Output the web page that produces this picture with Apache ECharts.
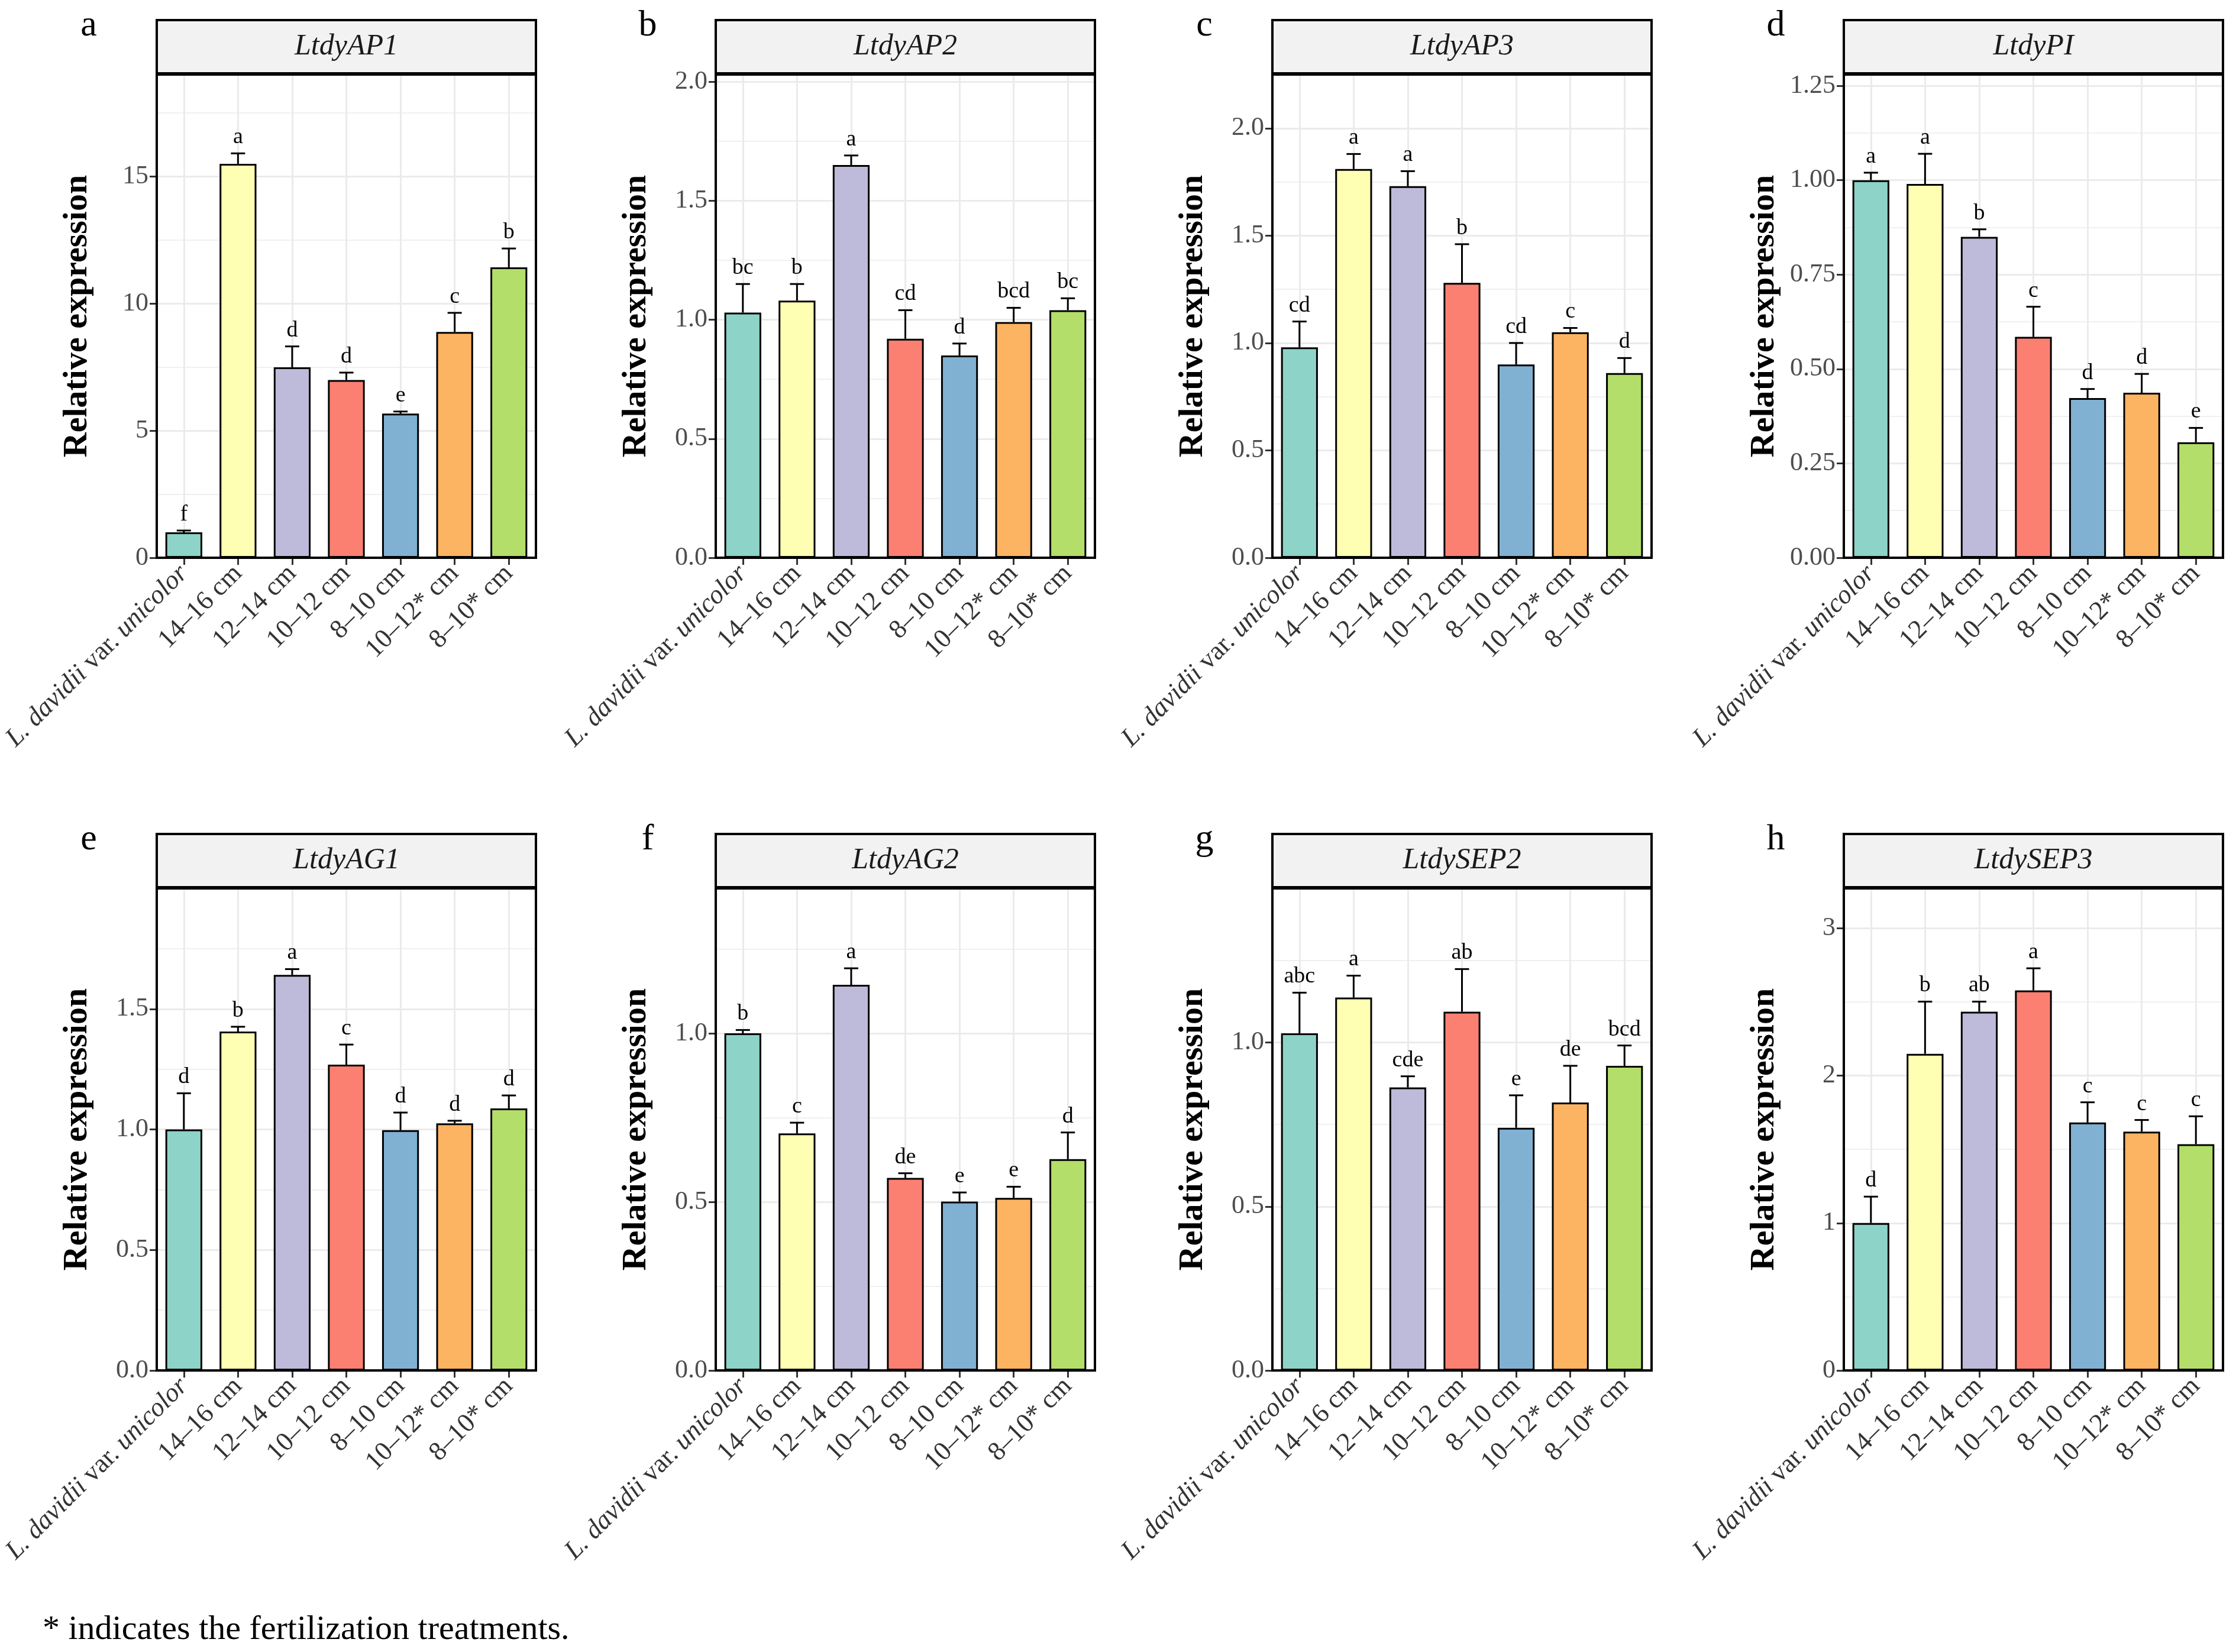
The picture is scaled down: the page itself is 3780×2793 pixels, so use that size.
<!DOCTYPE html>
<html>
<head>
<meta charset="utf-8">
<script src="https://cdn.jsdelivr.net/npm/echarts@6/dist/echarts.min.js"></script>
<style>
html, body { margin: 0; padding: 0; background: #fff; }
#chart { width: 3780px; height: 2793px; }
</style>
</head>
<body>
<div id="chart"></div>
<script>
var categories = ['L. davidii var. unicolor', '14–16 cm', '12–14 cm', '10–12 cm', '8–10 cm', '10–12* cm', '8–10* cm'];
var genes = ['LtdyAP1', 'LtdyAP2', 'LtdyAP3', 'LtdyPI', 'LtdyAG1', 'LtdyAG2', 'LtdySEP2', 'LtdySEP3'];
var panelTags = ['a', 'b', 'c', 'd', 'e', 'f', 'g', 'h'];

// mean relative expression, standard error, significance letters
var meanAP1 = [1.00, 15.49, 7.49, 6.99, 5.67, 8.88, 11.42];
var seAP1 = [0.07, 0.41, 0.82, 0.29, 0.08, 0.75, 0.74];
var sigAP1 = ['f', 'a', 'd', 'd', 'e', 'c', 'b'];

var meanAP2 = [1.03, 1.08, 1.65, 0.92, 0.85, 0.99, 1.04];
var seAP2 = [0.12, 0.07, 0.04, 0.12, 0.05, 0.06, 0.05];
var sigAP2 = ['bc', 'b', 'a', 'cd', 'd', 'bcd', 'bc'];

var meanAP3 = [0.98, 1.81, 1.73, 1.28, 0.90, 1.05, 0.86];
var seAP3 = [0.12, 0.07, 0.07, 0.18, 0.10, 0.02, 0.07];
var sigAP3 = ['cd', 'a', 'a', 'b', 'cd', 'c', 'd'];

var meanPI = [1.00, 0.99, 0.85, 0.585, 0.423, 0.437, 0.306];
var sePI = [0.02, 0.08, 0.02, 0.08, 0.024, 0.05, 0.038];
var sigPI = ['a', 'a', 'b', 'c', 'd', 'd', 'e'];

var meanAG1 = [1.00, 1.406, 1.641, 1.269, 0.997, 1.025, 1.087];
var seAG1 = [0.15, 0.02, 0.024, 0.083, 0.073, 0.011, 0.054];
var sigAG1 = ['d', 'b', 'a', 'c', 'd', 'd', 'd'];

var meanAG2 = [1.00, 0.703, 1.144, 0.571, 0.501, 0.512, 0.627];
var seAG2 = [0.01, 0.032, 0.049, 0.014, 0.027, 0.033, 0.079];
var sigAG2 = ['b', 'c', 'a', 'de', 'e', 'e', 'd'];

var meanSEP2 = [1.028, 1.137, 0.863, 1.094, 0.740, 0.817, 0.929];
var seSEP2 = [0.124, 0.067, 0.034, 0.13, 0.099, 0.112, 0.062];
var sigSEP2 = ['abc', 'a', 'cde', 'ab', 'e', 'de', 'bcd'];

var meanSEP3 = [1.00, 2.148, 2.433, 2.578, 1.682, 1.62, 1.535];
var seSEP3 = [0.179, 0.354, 0.069, 0.15, 0.137, 0.079, 0.189];
var sigSEP3 = ['d', 'b', 'ab', 'a', 'c', 'c', 'c'];

// y tick labels and upper limit of each panel
var ticksAP1 = ['0', '5', '10', '15'];
var ticksAP2 = ['0.0', '0.5', '1.0', '1.5', '2.0'];
var ticksAP3 = ['0.0', '0.5', '1.0', '1.5', '2.0'];
var ticksPI = ['0.00', '0.25', '0.50', '0.75', '1.00', '1.25'];
var ticksAG1 = ['0.0', '0.5', '1.0', '1.5'];
var ticksAG2 = ['0.0', '0.5', '1.0'];
var ticksSEP2 = ['0.0', '0.5', '1.0'];
var ticksSEP3 = ['0', '1', '2', '3'];
var yMax = [19.0, 2.03, 2.25, 1.28, 2.0, 1.43, 1.47, 3.27];

var means = [meanAP1, meanAP2, meanAP3, meanPI, meanAG1, meanAG2, meanSEP2, meanSEP3];
var ses = [seAP1, seAP2, seAP3, sePI, seAG1, seAG2, seSEP2, seSEP3];
var sigs = [sigAP1, sigAP2, sigAP3, sigPI, sigAG1, sigAG2, sigSEP2, sigSEP3];
var ticks = [ticksAP1, ticksAP2, ticksAP3, ticksPI, ticksAG1, ticksAG2, ticksSEP2, ticksSEP3];

var palette = ['#8DD3C7', '#FFFFB3', '#BEBADA', '#FB8072', '#80B1D3', '#FDB462', '#B3DE69'];
var FONT = '"Liberation Serif", "DejaVu Serif", serif';

// layout (px)
var colLeft = [265, 1210, 2151, 3117];
var panelW = 641;
var stripTop = [34, 1410];
var stripH = 90;
var plotBottom = [943, 2317];

var chart = echarts.init(document.getElementById('chart'));

var grids = [], xAxes = [], yAxes = [], series = [], graphics = [];

genes.forEach(function (gene, i) {
    var col = i % 4, row = Math.floor(i / 4);
    var left = colLeft[col];
    var top = stripTop[row] + stripH + 2;
    var height = plotBottom[row] - top;
    var tickVals = ticks[i].map(parseFloat);
    var step = tickVals[1] - tickVals[0];

    grids.push({ left: left, top: top, width: panelW, height: height, containLabel: false });

    xAxes.push({
        type: 'category',
        gridIndex: i,
        data: categories,
        axisLine: { show: false },
        axisTick: { show: true, alignWithLabel: true, length: 12, lineStyle: { color: '#333', width: 3 } },
        axisLabel: {
            rotate: 45,
            interval: 0,
            margin: 20,
            fontFamily: FONT,
            fontSize: 45,
            color: '#333',
            formatter: function (v, idx) {
                return idx === 0 ? '{i|L. davidii} var. {i|unicolor}' : v;
            },
            rich: { i: { fontStyle: 'italic', fontFamily: FONT, fontSize: 45, color: '#333' } }
        },
        splitLine: { show: true, alignWithLabel: true, lineStyle: { color: '#ebebeb', width: 3 } }
    });

    yAxes.push({
        type: 'value',
        gridIndex: i,
        min: 0,
        max: yMax[i],
        interval: step,
        name: 'Relative expression',
        nameLocation: 'middle',
        nameGap: 105,
        nameTextStyle: { fontFamily: FONT, fontSize: 58, fontWeight: 'bold', color: '#000' },
        axisLine: { show: false },
        axisTick: { show: true, length: 12, lineStyle: { color: '#333', width: 3 }, customValues: tickVals },
        axisLabel: {
            customValues: tickVals,
            margin: 14,
            fontFamily: FONT,
            fontSize: 44,
            color: '#4d4d4d',
            formatter: function (v) {
                for (var k = 0; k < tickVals.length; k++) {
                    if (Math.abs(tickVals[k] - v) < 1e-6) return ticks[i][k];
                }
                return '';
            }
        },
        splitLine: { show: true, lineStyle: { color: '#ebebeb', width: 3 } }
    });
    // minor grid lines
    yAxes.push({
        type: 'value',
        gridIndex: i,
        position: 'left',
        min: 0,
        max: yMax[i],
        interval: step / 2,
        axisLine: { show: false },
        axisTick: { show: false },
        axisLabel: { show: false },
        splitLine: { show: true, lineStyle: { color: '#ebebeb', width: 1.5 } }
    });

    series.push({
        type: 'bar',
        xAxisIndex: i,
        yAxisIndex: 2 * i,
        colorBy: 'data',
        barWidth: '68%',
        itemStyle: { borderColor: '#000', borderWidth: 3 },
        data: means[i]
    });

    var sig = sigs[i];
    series.push({
        type: 'custom',
        xAxisIndex: i,
        yAxisIndex: 2 * i,
        data: means[i].map(function (m, k) { return [k, m, m + ses[i][k]]; }),
        z: 5,
        renderItem: function (params, api) {
            var x = api.value(0);
            var p0 = api.coord([x, api.value(1)]);
            var p1 = api.coord([x, api.value(2)]);
            var cap = 12;
            return {
                type: 'group',
                children: [
                    { type: 'line', shape: { x1: p0[0], y1: p0[1], x2: p1[0], y2: p1[1] }, style: { stroke: '#000', lineWidth: 3 } },
                    { type: 'line', shape: { x1: p1[0] - cap, y1: p1[1], x2: p1[0] + cap, y2: p1[1] }, style: { stroke: '#000', lineWidth: 3 } },
                    {
                        type: 'text', x: p1[0], y: p1[1] - 8,
                        style: {
                            text: sig[params.dataIndex], font: '38px ' + FONT, fill: '#000',
                            align: 'center', verticalAlign: 'bottom', textAlign: 'center', textVerticalAlign: 'bottom'
                        }
                    }
                ]
            };
        }
    });

    // strip
    graphics.push({
        type: 'rect', z: 100,
        shape: { x: left, y: stripTop[row], width: panelW, height: stripH },
        style: { fill: '#f2f2f2', stroke: '#000', lineWidth: 4 }
    });
    graphics.push({
        type: 'text', z: 101,
        x: left + panelW / 2, y: stripTop[row] + stripH / 2,
        style: {
            text: gene, font: 'italic 50px ' + FONT, fill: '#1a1a1a',
            align: 'center', verticalAlign: 'middle', textAlign: 'center', textVerticalAlign: 'middle'
        }
    });
    // panel border
    graphics.push({
        type: 'rect', z: 100,
        shape: { x: left, y: top, width: panelW, height: height },
        style: { fill: 'none', stroke: '#000', lineWidth: 4 }
    });
    // panel tag
    graphics.push({
        type: 'text', z: 101,
        x: left - 115, y: stripTop[row] + 10,
        style: {
            text: panelTags[i], font: '62px ' + FONT, fill: '#000',
            align: 'center', verticalAlign: 'middle', textAlign: 'center', textVerticalAlign: 'middle'
        }
    });
});

graphics.push({
    type: 'text', z: 101,
    x: 72, y: 2756,
    style: {
        text: '* indicates the fertilization treatments.', font: '58px ' + FONT, fill: '#000',
        align: 'left', verticalAlign: 'middle', textAlign: 'left', textVerticalAlign: 'middle'
    }
});

chart.setOption({
    backgroundColor: '#fff',
    animation: false,
    color: palette,
    textStyle: { fontFamily: FONT },
    grid: grids,
    xAxis: xAxes,
    yAxis: yAxes,
    series: series,
    graphic: graphics
});
</script>
</body>
</html>
